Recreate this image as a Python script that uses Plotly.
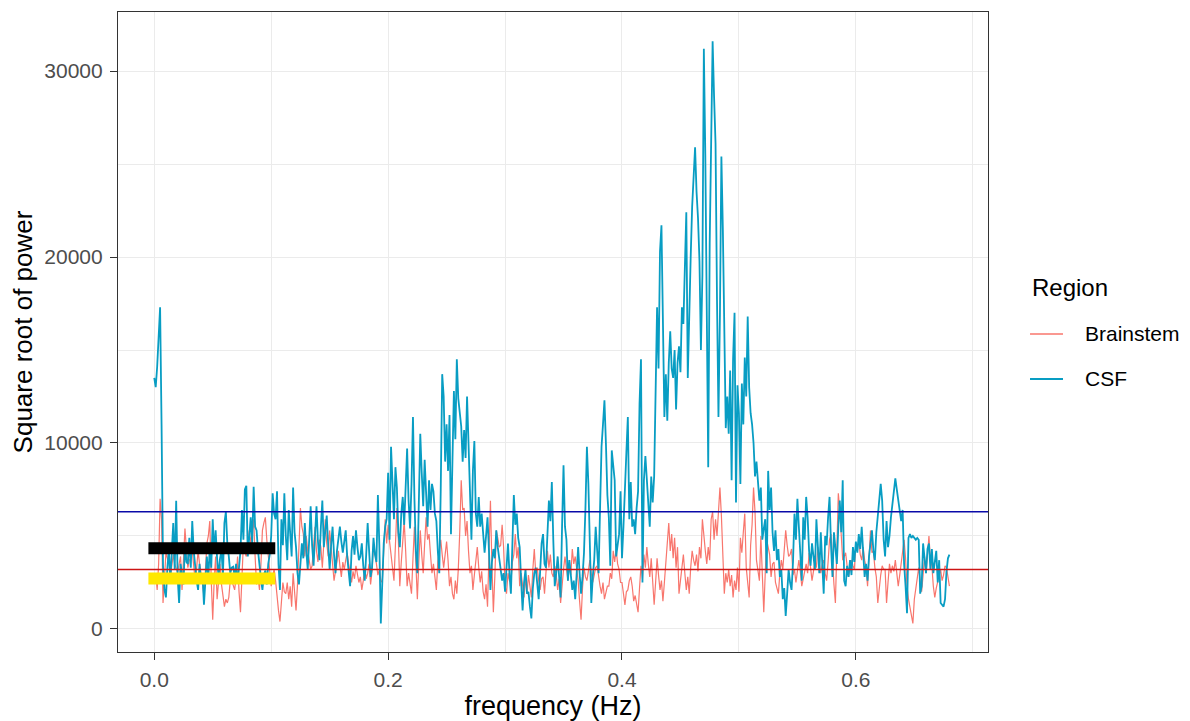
import plotly.graph_objects as go

# frequency bins (Hz), spacing 0.00125 from 0 to 0.68
freq = [round(i * 0.00125, 5) for i in range(545)]

csf = [
    13500, 13000, 14100, 15500, 17300, 11000, 3400, 2100, 1700, 3300,
    4300, 2600, 4600, 5700, 3200, 6900, 2800, 1400, 3500, 2900,
    2400, 4600, 3600, 3500, 4900, 3300, 5800, 4200, 3200, 2600,
    2100, 3500, 2500, 3000, 1300, 2800, 3900, 2700, 4400, 3300,
    5900, 4100, 5300, 3800, 2800, 3800, 4200, 2900, 5700, 6300,
    4600, 3900, 3000, 3300, 3350, 2800, 3500, 2450, 3600, 4200,
    6400, 4800, 7500, 7700, 3900, 5200, 6000, 4600, 7650, 5500,
    5300, 4200, 3350, 2700, 2100, 2900, 3150, 2400, 3500, 4000,
    5000, 7300, 6200, 5900, 7400, 3500, 2100, 5900, 4500, 7300,
    5000, 3700, 6400, 5100, 3900, 7600, 5200, 4400, 3000, 2400,
    3600, 4600, 3800, 5700, 4200, 3200, 4800, 6600, 4500, 3400,
    5000, 6600, 4700, 3700, 5500, 6900, 4400, 5300, 6100, 4500,
    3200, 4500, 5500, 4000, 3000, 4200, 4900, 5500, 4700, 4100,
    4700, 5300, 3900, 2900, 2300, 4200, 5000, 4000, 5300, 4400,
    3700, 3900, 4600, 3400, 2600, 4000, 5700, 4200, 2800, 3300,
    4900, 4000, 3600, 7200, 4500, 300, 2800, 4600, 5500, 5900,
    8400, 4800, 9800, 7500, 5900, 8700, 7600, 5200, 4400, 6200,
    7100, 5600, 7300, 9700, 6900, 5400, 7800, 11400, 7000, 4200,
    3000, 6800, 10500, 8400, 6600, 9100, 7200, 5500, 8000, 6400,
    7800, 7400, 6200, 5800, 4200, 3000, 7500, 13700, 12500, 9000,
    11000, 8500, 11500, 5100, 9000, 12800, 10200, 14500, 12400, 11700,
    10900, 9000, 10700, 9200, 12500, 10000, 7000, 4800, 8500, 10100,
    6200, 5500, 7100, 5500, 6200, 5000, 4100, 5000, 6000, 4200,
    2100, 3600, 4300, 3800, 5300, 4400, 3900, 3200, 2600, 3000,
    2000, 3500, 4600, 3000, 1900, 4500, 7200, 5600, 6200, 4900,
    4400, 2600, 1000, 2500, 3200, 1900, 2000, 1200, 570, 2200,
    3000, 3300, 2500, 1600, 3100, 4600, 5100, 3500, 3300, 5100,
    6900, 5800, 7900, 4800, 2300, 3000, 3900, 2800, 1700, 5500,
    8800, 5500, 4800, 2600, 3700, 2900, 2100, 2600, 1600, 3000,
    4400, 3000, 1900, 2800, 4100, 6500, 9800, 7800, 4500, 1400,
    2800, 3700, 5500, 4200, 3000, 6500, 9800, 11000, 12300, 10000,
    7200, 6000, 3400, 9600, 8800, 8000, 3900, 4600, 5100, 7400,
    3800, 5500, 8000, 9500, 11400, 5900, 7900, 5500, 5900, 5100,
    6500, 7400, 12100, 14500, 2500, 8000, 9300, 8000, 6500, 5500,
    8200, 6800, 8200, 12900, 17300, 14000, 20300, 21700, 15000, 11400,
    13700, 11200, 14300, 16000, 14000, 13500, 15000, 11800, 14300, 15200,
    13800, 17300, 16400, 20300, 22400, 13500, 17700, 20000, 22700, 24700,
    25900, 23500, 22100, 19800, 15000, 19000, 31200, 25500, 15000, 8700,
    20700, 25300, 31600, 28600, 26100, 17700, 11400, 16900, 25400, 21500,
    15000, 10800, 12500, 10500, 13900, 8000, 14500, 17000, 6800, 13100,
    11600, 7800, 13200, 11000, 14600, 12500, 16800, 13000, 11600, 11000,
    10000, 8200, 9000, 8000, 6900, 7600, 4800, 5400, 5900, 3000,
    8500, 6400, 7600, 5200, 4200, 5300, 3700, 4300, 2800, 3200,
    1600, 2200, 700, 1900, 3200, 2500, 2100, 3600, 6200, 4800,
    7000, 5500, 3900, 2600, 6000, 4800, 7100, 6000, 4200, 3400,
    4600, 3800, 3200, 5900, 4300, 3000, 5200, 3500, 1900, 5000,
    4500, 6000, 7100, 4500, 2800, 5200, 4300, 3500, 5500, 6900,
    5200, 8000, 2600, 2300, 3400, 2800, 3700, 2900, 4400, 3600,
    4700, 4100, 5100, 4300, 5500, 4400, 2800, 3500, 2600, 3900,
    4800, 5300, 4200, 3700, 5200, 6000, 6600, 7800, 6900, 4800,
    3900, 5800, 4400, 5000, 6000, 6800, 7500, 8100, 7500, 6900,
    6400, 5800, 6400, 3500, 2300, 850, 4900, 5100, 4900, 5000,
    4900, 4800, 4900, 4800, 1900, 2300, 4600, 3600, 3000, 4300,
    4600, 3200, 4300, 3000, 3600, 4200, 2500, 3700, 1400, 1300,
    1200, 1600, 3100, 3800, 4000,
]

brainstem = [
    2500, 3000, 2100, 3500, 7000, 5900, 1400, 2900, 4100, 3800,
    3600, 2800, 3300, 4000, 3500, 3300, 3000, 3500, 3900, 2100,
    3600, 5400, 4300, 3300, 3700, 3800, 4200, 3300, 2600, 3300,
    4200, 3500, 3000, 2500, 1700, 2900, 4600, 5000, 5800, 2600,
    500, 2600, 3900, 1600, 2600, 3500, 2400, 1800, 1200, 1600,
    1400, 1700, 2600, 2600, 2300, 2100, 2800, 3900, 2000, 900,
    2800, 4600, 4100, 3900, 4500, 5300, 4600, 5300, 5900, 3900,
    2400, 2800, 2100, 3500, 5300, 5700, 6000, 4800, 3900, 2800,
    2300, 2800, 3200, 2600, 1600, 1000, 400, 1600, 2500, 2000,
    1900, 2500, 1600, 2300, 1200, 3000, 2000, 1000, 2400, 4500,
    6500, 5500, 5100, 3900, 5000, 4200, 3800, 3200, 3400, 4300,
    5500, 4200, 3600, 4800, 4400, 3300, 4700, 5900, 4600, 3900,
    5300, 4300, 3700, 2600, 3100, 3800, 4200, 3400, 2800, 3600,
    3200, 3700, 4100, 3500, 2900, 2500, 3100, 2700, 3400, 2900,
    2500, 2800, 2100, 2600, 3300, 2700, 3000, 3500, 2400, 3100,
    4600, 4100, 3500, 2900, 3200, 2600, 2500, 4200, 5900, 4600,
    5600, 4700, 3900, 3300, 2600, 4500, 6500, 4800, 2300, 3600,
    4800, 5800, 4200, 2300, 3000, 2400, 1900, 3800, 5500, 3500,
    1600, 3600, 5300, 4000, 3000, 4600, 6000, 4800, 5100, 4000,
    3000, 3500, 2700, 2100, 3600, 4100, 4800, 4000, 3300, 4000,
    4700, 3700, 2300, 2800, 1900, 1600, 2600, 1900, 3200, 5200,
    8000, 6400, 6500, 5000, 5800, 4200, 3000, 3400, 2100, 2900,
    3600, 4400, 3300, 2500, 3100, 2000, 1600, 2400, 1200, 3800,
    6900, 3500, 900, 2800, 5300, 4900, 4400, 4500, 5600, 4400,
    2300, 1900, 3000, 2600, 2500, 3600, 4000, 5100, 3800, 4400,
    2300, 3000, 2400, 1700, 2800, 1900, 2900, 2200, 1700, 3200,
    4300, 3000, 3300, 2600, 2100, 2700, 2800, 1900, 3000, 4200,
    3300, 4000, 3000, 2800, 3400, 2900, 2100, 2700, 1400, 2600,
    3200, 3900, 3100, 2600, 3500, 2900, 4300, 3500, 3900, 3200,
    2600, 1500, 500, 2200, 3300, 2800, 2600, 3100, 3700, 3000,
    2500, 2900, 3300, 3400, 2700, 2300, 1900, 2500, 1600, 1900,
    2300, 2300, 3000, 2700, 4200, 3600, 4300, 3500, 3200, 2500,
    2500, 1900, 1300, 2000, 2100, 2600, 2800, 2300, 1500, 1800,
    1300, 900, 2200, 3400, 2700, 4000, 3300, 4400, 3500, 2800,
    3800, 2300, 1300, 2500, 3800, 2900, 2100, 2600, 1500, 2500,
    3600, 4500, 5700, 4200, 5100, 3800, 4900, 3300, 4400, 1900,
    2700, 3300, 4000, 3000, 2100, 2800, 1900, 3300, 4200, 3700,
    3400, 4000, 3100, 4400, 3800, 5900, 4800, 4200, 3500, 4400,
    3700, 5900, 6300, 4800, 5900, 5000, 6300, 7600, 6100, 3800,
    1900, 3000, 2500, 3200, 2300, 2900, 1700, 2600, 2100, 3300,
    2000, 4900, 4100, 5200, 6200, 3300, 2500, 1700, 4500, 5600,
    7600, 6300, 3700, 3000, 2600, 5000, 2500, 900, 3000, 4800,
    4400, 4000, 2800, 3500, 3600, 2500, 2200, 1900, 3000, 3700,
    3200, 4100, 5300, 4500, 3900, 4000, 4300, 2900, 3200, 2500,
    3000, 3700, 3100, 2300, 2700, 3200, 3500, 3000, 4100, 3300,
    2600, 3100, 3700, 3300, 4400, 3500, 3000, 3500, 3700, 3000,
    2600, 3600, 4800, 5100, 3400, 2400, 1400, 5000, 7300, 6400,
    5000, 3700, 3900, 4100, 3400, 2800, 3300, 3700, 3400, 3200,
    4600, 4200, 4800, 4000, 3700, 4400, 3700, 3300, 2300, 3900,
    5300, 4100, 4200, 3300, 2800, 1400, 2300, 2900, 3400, 3200,
    3200, 1400, 2500, 3500, 3000, 3400, 3100, 3700, 3000, 2300,
    2900, 3500, 4100, 4800, 3800, 2300, 1600, 1200, 800, 300,
    1600, 2200, 2800, 3300, 2600, 2000, 2900, 3900, 3000, 4000,
    5000, 3700, 3400, 2300, 1700, 2200, 2600, 2900, 3200, 2600,
    2900, 3400, 3300, 2800, 2300,
]

series_names = ["Brainstem", "CSF"]
series_colors = ["#F8766D", "#089DC3"]
series_widths = [1.2, 1.8]

# reference lines and highlight bars
hline_values = [6300, 3200]
hline_colors = ["#0A0AA8", "#CC1414"]
bar_x = [-0.005, 0.1035]
bar_values = [4340, 2710]
bar_colors = ["#000000", "#FFE800"]

x_ticks = [0.0, 0.2, 0.4, 0.6]
y_ticks = [0, 10000, 20000, 30000]

FONT = "Liberation Sans, Arial, sans-serif"

fig = go.Figure()
for name, ys, col, w in zip(series_names, [brainstem, csf], series_colors, series_widths):
    fig.add_trace(go.Scatter(x=freq, y=ys, mode="lines", name=name,
                             line=dict(color=col, width=w), showlegend=False))

for v, c in zip(hline_values, hline_colors):
    fig.add_shape(type="line", xref="paper", yref="y", x0=0, x1=1, y0=v, y1=v,
                  line=dict(color=c, width=1.6), layer="above")
for v, c in zip(bar_values, bar_colors):
    fig.add_shape(type="line", xref="x", yref="y", x0=bar_x[0], x1=bar_x[1], y0=v, y1=v,
                  line=dict(color=c, width=12), layer="above")

# legend (drawn as text + key lines to the right of the panel)
fig.add_annotation(xref="paper", yref="paper", x=1.0483, y=0.5688, text="Region",
                   showarrow=False, xanchor="left", yanchor="middle",
                   font=dict(size=24, color="black", family=FONT))
legend_y = [0.4969, 0.4266]
for name, col, w, ly in zip(series_names, series_colors, series_widths, legend_y):
    fig.add_shape(type="line", xref="paper", yref="paper", x0=1.0483, x1=1.0862,
                  y0=ly, y1=ly, line=dict(color=col, width=w + 0.2))
    fig.add_annotation(xref="paper", yref="paper", x=1.1092, y=ly, text=name,
                       showarrow=False, xanchor="left", yanchor="middle",
                       font=dict(size=21, color="black", family=FONT))

fig.update_layout(
    width=1182, height=713,
    margin=dict(l=110, r=202, t=4, b=69),
    paper_bgcolor="white", plot_bgcolor="white",
    font=dict(family=FONT, color="black"),
    showlegend=False,
)

fig.update_xaxes(
    range=[-0.031, 0.713], tickvals=x_ticks, tickformat=".1f",
    showgrid=True, gridcolor="#EBEBEB", gridwidth=1.3,
    minor=dict(dtick=0.1, tick0=0, showgrid=True, gridcolor="#EBEBEB", gridwidth=0.8),
    showline=True, mirror=True, linecolor="#333333", linewidth=1.2,
    ticks="outside", ticklen=7, tickcolor="#333333", tickwidth=1.1,
    tickfont=dict(size=21, color="#4D4D4D"), zeroline=False, ticklabelstandoff=2,
    title=dict(text="frequency (Hz)", font=dict(size=27, color="black"), standoff=4),
)
fig.update_yaxes(
    range=[-1237, 33172], tickvals=y_ticks, tickformat="d",
    showgrid=True, gridcolor="#EBEBEB", gridwidth=1.3,
    minor=dict(dtick=5000, tick0=0, showgrid=True, gridcolor="#EBEBEB", gridwidth=0.8),
    showline=True, mirror=True, linecolor="#333333", linewidth=1.2,
    ticks="outside", ticklen=7, tickcolor="#333333", tickwidth=1.1,
    tickfont=dict(size=21, color="#4D4D4D"), zeroline=False, ticklabelstandoff=3,
    title=dict(text="Square root of power", font=dict(size=26, color="black"), standoff=6),
)

fig.write_html("out.html")
